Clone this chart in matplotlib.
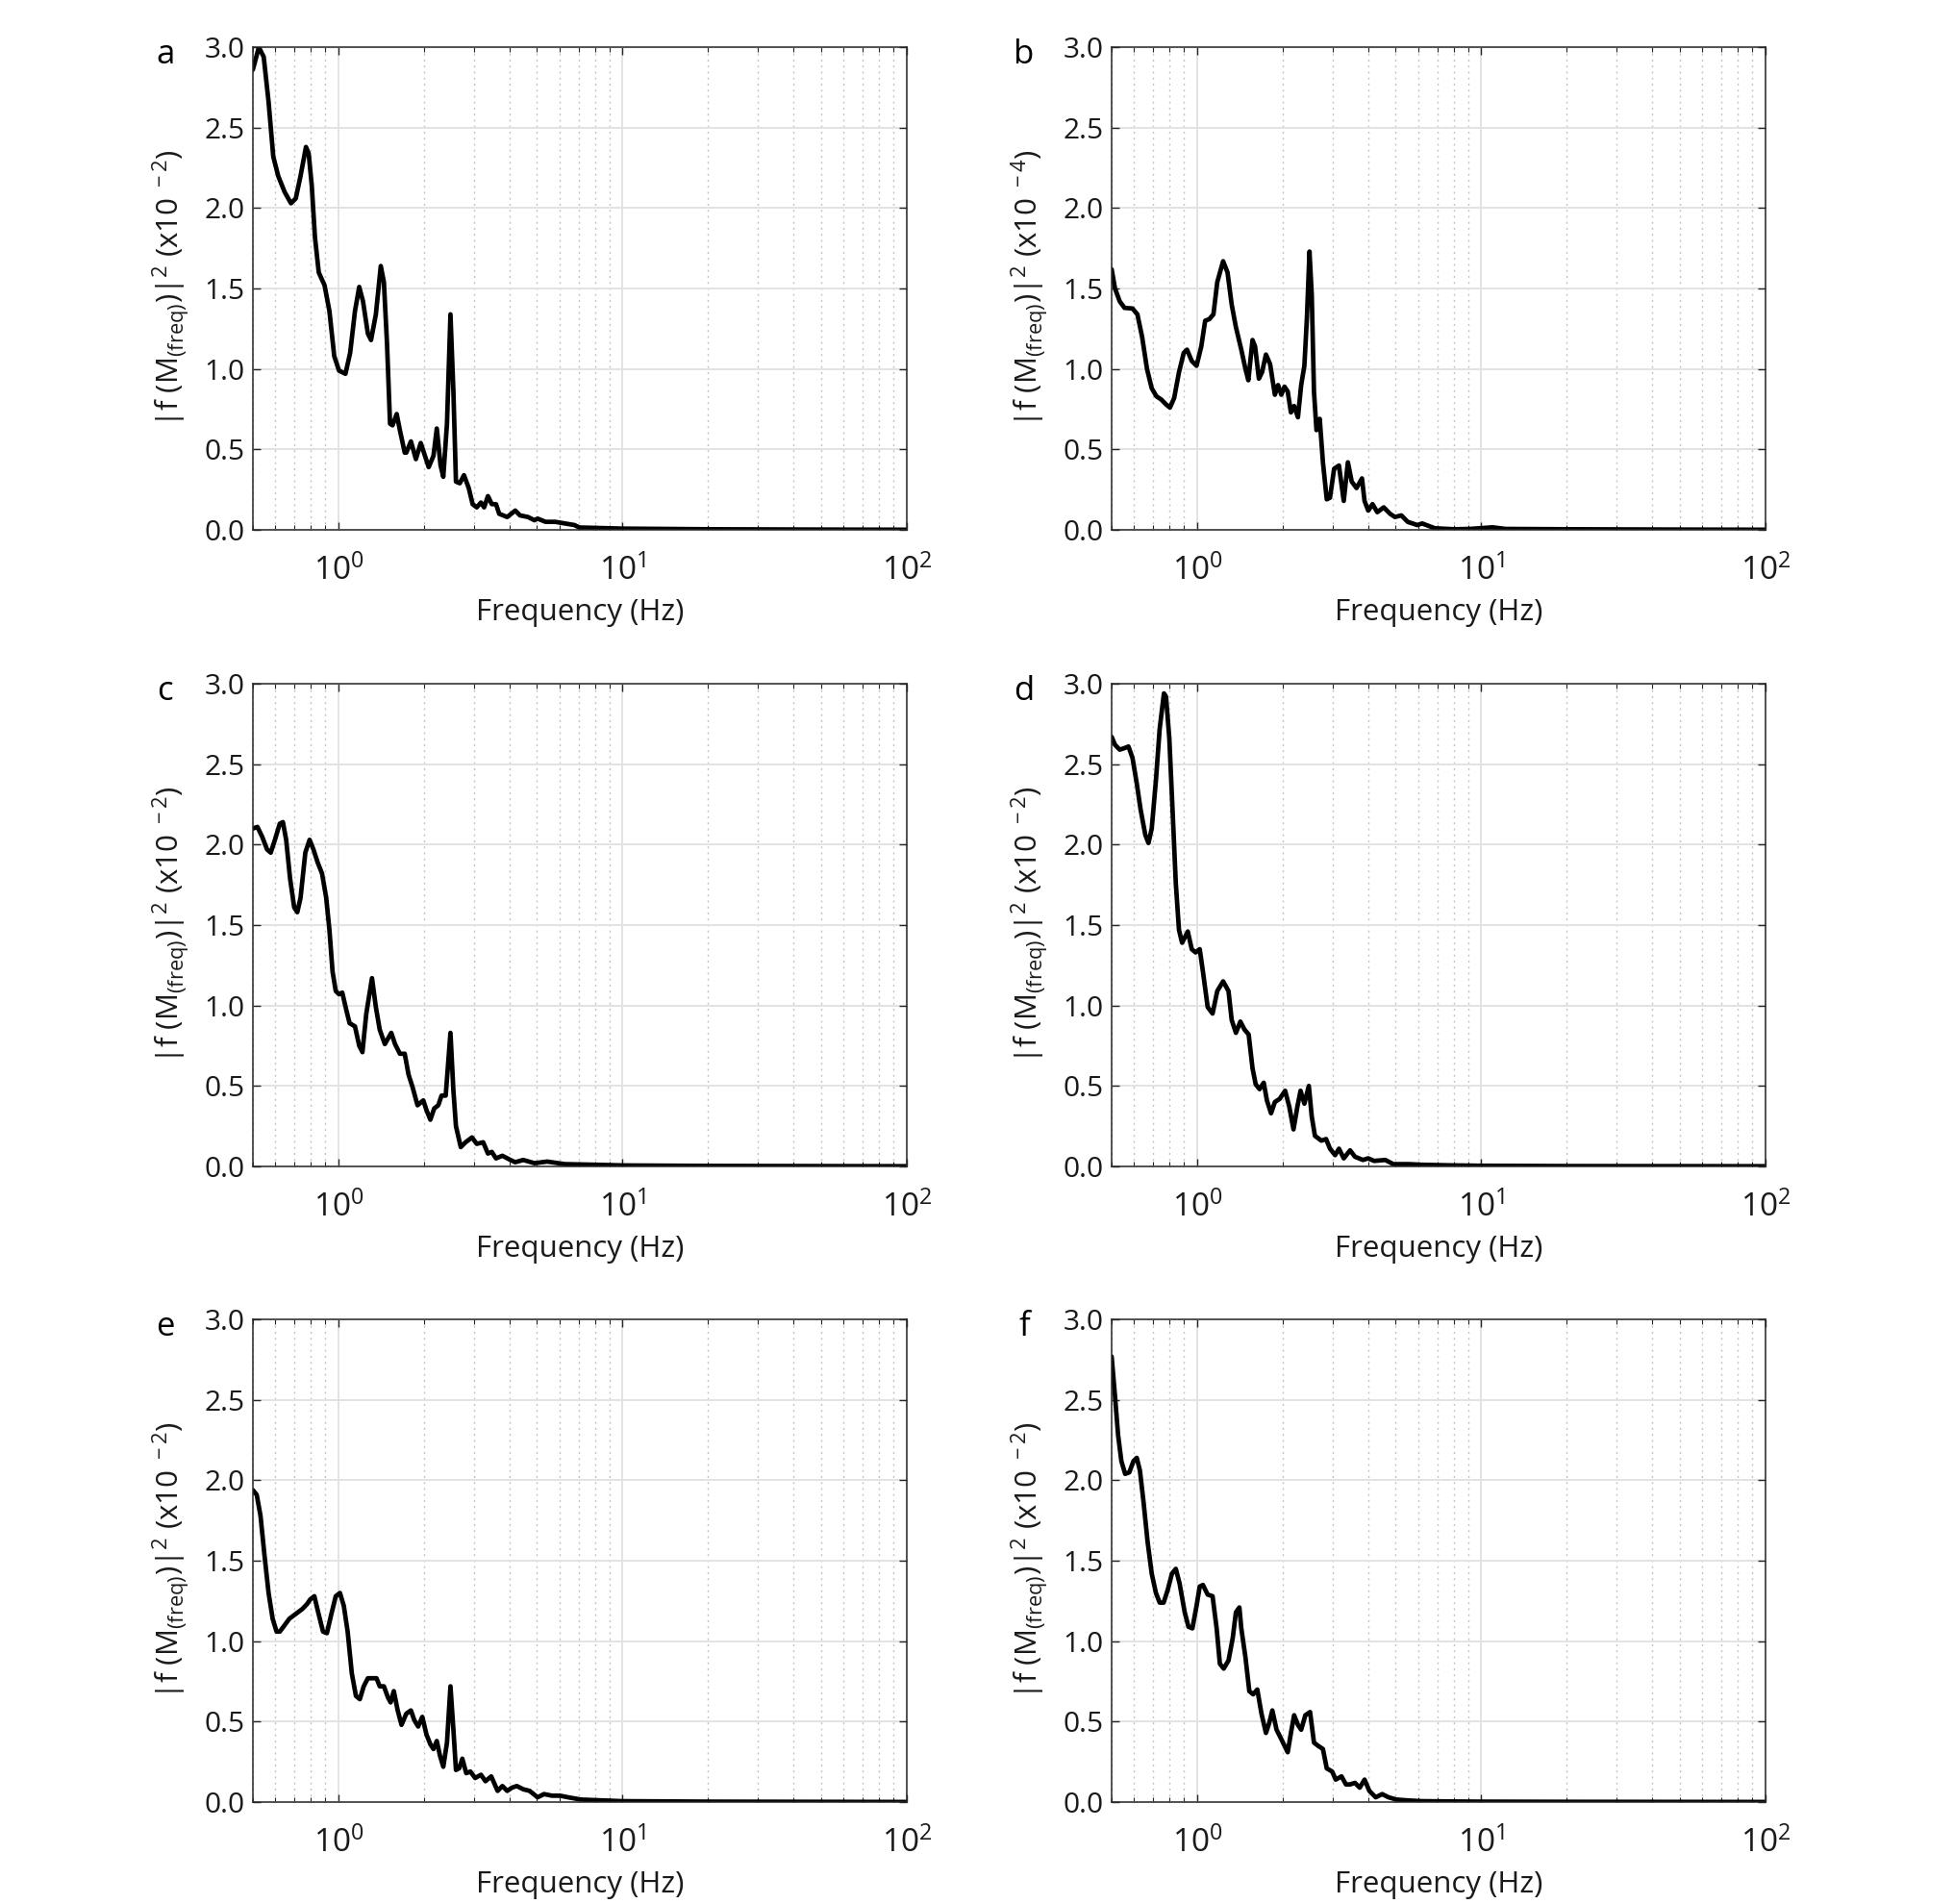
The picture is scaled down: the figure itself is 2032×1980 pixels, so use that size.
import matplotlib
matplotlib.use("Agg")
import matplotlib.pyplot as plt
from matplotlib.ticker import LogLocator, FixedLocator, FormatStrFormatter, NullFormatter

plt.rcParams['font.family'] = ['Open Sans', 'DejaVu Sans']
plt.rcParams['mathtext.fontset'] = 'custom'
plt.rcParams['mathtext.rm'] = 'Open Sans'
plt.rcParams['mathtext.it'] = 'Open Sans:italic'
plt.rcParams['mathtext.default'] = 'regular'

# ---- data (frequency in Hz, power in units of the label) ----

freq_a = [0.5, 0.525, 0.546, 0.568, 0.590, 0.614, 0.647, 0.681, 0.708, 0.736, 0.769, 0.786,
          0.806, 0.827, 0.853, 0.894, 0.930, 0.967, 1.005, 1.059, 1.10, 1.144, 1.184, 1.221,
          1.270, 1.303, 1.355, 1.41, 1.446, 1.483, 1.52, 1.551, 1.604, 1.646, 1.712, 1.734,
          1.80, 1.874, 1.949, 2.079, 2.161, 2.22, 2.289, 2.34, 2.411, 2.48, 2.540, 2.593,
          2.675, 2.767, 2.876, 2.968, 3.069, 3.176, 3.258, 3.36, 3.467, 3.587, 3.681, 3.928,
          4.192, 4.357, 4.649, 4.897, 5.026, 5.362, 5.798, 6.266, 6.775, 7.04, 8.125, 10,
          20, 50, 100]
val_a = [2.86, 3.0, 2.94, 2.66, 2.32, 2.20, 2.10, 2.03, 2.06, 2.20, 2.38, 2.34,
         2.14, 1.82, 1.60, 1.52, 1.36, 1.08, 0.99, 0.97, 1.10, 1.36, 1.51, 1.42,
         1.22, 1.18, 1.34, 1.64, 1.54, 1.16, 0.66, 0.65, 0.72, 0.62, 0.48, 0.48,
         0.55, 0.44, 0.54, 0.39, 0.46, 0.63, 0.40, 0.33, 0.66, 1.34, 0.86, 0.30,
         0.29, 0.34, 0.26, 0.16, 0.14, 0.17, 0.14, 0.21, 0.16, 0.16, 0.10, 0.08,
         0.12, 0.09, 0.08, 0.06, 0.07, 0.05, 0.05, 0.04, 0.03, 0.015, 0.012, 0.008,
         0.004, 0.002, 0.001]

freq_b = [0.5, 0.514, 0.534, 0.555, 0.592, 0.616, 0.640, 0.666, 0.692, 0.719, 0.748, 0.777,
          0.802, 0.830, 0.863, 0.897, 0.921, 0.957, 0.995, 1.034, 1.067, 1.104, 1.141, 1.177,
          1.234, 1.279, 1.323, 1.369, 1.430, 1.479, 1.514, 1.566, 1.599, 1.649, 1.692, 1.746,
          1.806, 1.877, 1.927, 1.978, 2.030, 2.083, 2.138, 2.194, 2.263, 2.323, 2.384, 2.434,
          2.485, 2.531, 2.577, 2.630, 2.700, 2.771, 2.858, 2.934, 3.034, 3.155, 3.280, 3.392,
          3.499, 3.638, 3.802, 3.882, 4.0, 4.141, 4.305, 4.534, 4.776, 4.966, 5.231, 5.508,
          5.955, 6.19, 6.866, 8.02, 9.13, 10.95, 12.15, 20, 50, 100]
val_b = [1.62, 1.50, 1.42, 1.38, 1.376, 1.34, 1.20, 1.00, 0.88, 0.83, 0.81, 0.78,
         0.76, 0.82, 0.98, 1.10, 1.12, 1.05, 1.02, 1.14, 1.30, 1.31, 1.34, 1.54,
         1.67, 1.60, 1.40, 1.26, 1.12, 1.00, 0.93, 1.18, 1.14, 0.94, 0.98, 1.09,
         1.03, 0.84, 0.90, 0.84, 0.89, 0.86, 0.73, 0.77, 0.70, 0.90, 1.02, 1.32,
         1.73, 1.46, 0.86, 0.62, 0.69, 0.42, 0.19, 0.20, 0.38, 0.40, 0.18, 0.42,
         0.30, 0.26, 0.32, 0.18, 0.12, 0.16, 0.11, 0.14, 0.10, 0.08, 0.09, 0.05,
         0.03, 0.04, 0.01, 0.004, 0.006, 0.016, 0.006, 0.004, 0.002, 0.001]

freq_c = [0.5, 0.519, 0.539, 0.561, 0.578, 0.598, 0.622, 0.638, 0.655, 0.676, 0.699, 0.717,
          0.736, 0.765, 0.792, 0.817, 0.845, 0.876, 0.906, 0.930, 0.954, 0.979, 1.005, 1.032,
          1.067, 1.095, 1.144, 1.184, 1.215, 1.254, 1.313, 1.355, 1.398, 1.457, 1.535, 1.583,
          1.646, 1.712, 1.766, 1.826, 1.899, 1.990, 2.042, 2.107, 2.174, 2.247, 2.307, 2.386,
          2.48, 2.540, 2.593, 2.696, 2.803, 2.952, 3.069, 3.233, 3.36, 3.467, 3.587, 3.778,
          4.031, 4.192, 4.472, 4.897, 5.433, 6.266, 8.125, 10, 20, 100]
val_c = [2.10, 2.11, 2.05, 1.97, 1.95, 2.03, 2.13, 2.14, 2.03, 1.79, 1.61, 1.58,
         1.67, 1.95, 2.03, 1.97, 1.89, 1.82, 1.67, 1.47, 1.21, 1.09, 1.07, 1.08,
         0.97, 0.89, 0.87, 0.75, 0.71, 0.95, 1.17, 0.99, 0.85, 0.76, 0.83, 0.76,
         0.70, 0.70, 0.57, 0.49, 0.38, 0.41, 0.35, 0.29, 0.36, 0.38, 0.44, 0.44,
         0.83, 0.47, 0.25, 0.12, 0.15, 0.18, 0.14, 0.15, 0.08, 0.09, 0.05, 0.066,
         0.04, 0.026, 0.04, 0.02, 0.03, 0.014, 0.01, 0.006, 0.003, 0.001]

freq_d = [0.5, 0.514, 0.534, 0.555, 0.573, 0.592, 0.613, 0.632, 0.657, 0.674, 0.692, 0.716,
          0.738, 0.764, 0.777, 0.798, 0.819, 0.841, 0.863, 0.885, 0.927, 0.957, 0.987, 1.021,
          1.048, 1.089, 1.133, 1.177, 1.234, 1.289, 1.323, 1.369, 1.419, 1.468, 1.518, 1.566,
          1.607, 1.658, 1.715, 1.760, 1.820, 1.877, 1.952, 2.040, 2.110, 2.183, 2.252, 2.311,
          2.384, 2.472, 2.531, 2.597, 2.735, 2.843, 2.934, 3.058, 3.155, 3.280, 3.453, 3.592,
          3.831, 4.0, 4.195, 4.595, 4.90, 5.58, 6.19, 8.02, 10, 20, 100]
val_d = [2.67, 2.62, 2.59, 2.60, 2.61, 2.54, 2.38, 2.22, 2.06, 2.01, 2.10, 2.40,
         2.72, 2.94, 2.92, 2.66, 2.22, 1.76, 1.47, 1.39, 1.46, 1.35, 1.33, 1.35,
         1.21, 0.99, 0.95, 1.09, 1.15, 1.09, 0.91, 0.83, 0.90, 0.85, 0.82, 0.61,
         0.51, 0.48, 0.52, 0.41, 0.33, 0.40, 0.42, 0.47, 0.37, 0.23, 0.37, 0.47,
         0.39, 0.50, 0.31, 0.19, 0.16, 0.17, 0.11, 0.07, 0.11, 0.05, 0.10, 0.06,
         0.04, 0.05, 0.034, 0.04, 0.014, 0.014, 0.01, 0.006, 0.004, 0.002, 0.001]

freq_e = [0.5, 0.516, 0.532, 0.549, 0.568, 0.587, 0.606, 0.622, 0.647, 0.672, 0.708, 0.746,
          0.775, 0.796, 0.823, 0.849, 0.883, 0.911, 0.942, 0.979, 1.013, 1.045, 1.078, 1.115,
          1.153, 1.19, 1.228, 1.270, 1.320, 1.362, 1.398, 1.446, 1.495, 1.527, 1.567, 1.617,
          1.668, 1.734, 1.80, 1.850, 1.909, 1.974, 2.042, 2.107, 2.161, 2.22, 2.277, 2.34,
          2.411, 2.48, 2.54, 2.593, 2.661, 2.73, 2.818, 2.914, 3.030, 3.176, 3.293, 3.451,
          3.634, 3.778, 3.928, 4.083, 4.246, 4.472, 4.710, 5.026, 5.293, 5.649, 6.03, 6.433,
          7.136, 8.125, 10, 20, 100]
val_e = [1.94, 1.91, 1.78, 1.54, 1.30, 1.14, 1.06, 1.06, 1.10, 1.14, 1.17, 1.20,
         1.23, 1.26, 1.28, 1.18, 1.06, 1.05, 1.16, 1.28, 1.30, 1.22, 1.06, 0.80,
         0.66, 0.64, 0.72, 0.77, 0.77, 0.77, 0.72, 0.72, 0.65, 0.62, 0.69, 0.57,
         0.48, 0.55, 0.57, 0.51, 0.47, 0.53, 0.42, 0.36, 0.33, 0.38, 0.29, 0.22,
         0.37, 0.72, 0.45, 0.20, 0.21, 0.27, 0.18, 0.19, 0.15, 0.17, 0.13, 0.16,
         0.07, 0.10, 0.07, 0.09, 0.10, 0.08, 0.07, 0.03, 0.05, 0.04, 0.04, 0.03,
         0.016, 0.012, 0.006, 0.003, 0.001]

freq_f = [0.5, 0.514, 0.527, 0.541, 0.558, 0.577, 0.597, 0.613, 0.629, 0.648, 0.669, 0.692,
          0.716, 0.738, 0.762, 0.788, 0.815, 0.841, 0.867, 0.904, 0.932, 0.962, 0.995, 1.021,
          1.048, 1.089, 1.133, 1.171, 1.202, 1.240, 1.289, 1.334, 1.369, 1.408, 1.430, 1.479,
          1.526, 1.574, 1.628, 1.684, 1.746, 1.792, 1.839, 1.903, 1.967, 2.030, 2.083, 2.138,
          2.194, 2.263, 2.323, 2.403, 2.497, 2.577, 2.665, 2.771, 2.858, 2.987, 3.073, 3.221,
          3.339, 3.453, 3.592, 3.734, 3.882, 4.036, 4.250, 4.477, 4.716, 5.03, 5.58, 6.19,
          8.02, 10, 20, 100]
val_f = [2.77, 2.52, 2.28, 2.12, 2.04, 2.05, 2.12, 2.14, 2.06, 1.86, 1.62, 1.42,
         1.30, 1.24, 1.24, 1.32, 1.42, 1.45, 1.36, 1.18, 1.09, 1.08, 1.22, 1.34,
         1.35, 1.29, 1.28, 1.08, 0.86, 0.83, 0.88, 1.02, 1.18, 1.21, 1.08, 0.90,
         0.69, 0.67, 0.70, 0.55, 0.43, 0.49, 0.57, 0.45, 0.40, 0.35, 0.31, 0.43,
         0.54, 0.48, 0.45, 0.54, 0.56, 0.37, 0.35, 0.33, 0.21, 0.19, 0.14, 0.16,
         0.11, 0.11, 0.12, 0.09, 0.14, 0.07, 0.03, 0.05, 0.03, 0.016, 0.01, 0.006,
         0.004, 0.003, 0.002, 0.001]

panel_letters = ['a', 'b', 'c', 'd', 'e', 'f']
exponents = ['-2', '-4', '-2', '-2', '-2', '-2']
series = [(freq_a, val_a), (freq_b, val_b), (freq_c, val_c),
          (freq_d, val_d), (freq_e, val_e), (freq_f, val_f)]
y_ticks = [0.0, 0.5, 1.0, 1.5, 2.0, 2.5, 3.0]

# ---- layout ----
fig = plt.figure(figsize=(20.32, 19.80), dpi=100)

col_left = [0.1294, 0.5689]
row_bottom = [0.7217, 0.3874, 0.0535]
ax_w, ax_h = 0.3346, 0.2535

for i, (fx, fy) in enumerate(series):
    r, c = divmod(i, 2)
    ax = fig.add_axes([col_left[c], row_bottom[r], ax_w, ax_h])

    ax.plot(fx, fy, color='black', linewidth=3.4,
            solid_joinstyle='round', solid_capstyle='round')

    ax.set_xscale('log')
    ax.set_xlim(0.5, 100)
    ax.set_ylim(0, 3)
    ax.yaxis.set_major_locator(FixedLocator(y_ticks))
    ax.yaxis.set_major_formatter(FormatStrFormatter('%.1f'))
    ax.xaxis.set_major_locator(LogLocator(base=10))
    ax.xaxis.set_minor_locator(LogLocator(base=10, subs=range(2, 10)))
    ax.xaxis.set_minor_formatter(NullFormatter())

    # matlab-ish grid
    ax.grid(True, which='major', color='#e3e3e3', linewidth=1.4, linestyle='-')
    ax.grid(True, which='minor', axis='x', color='#c4c4c4', linewidth=1.0,
            linestyle=(0, (1.5, 3)))
    ax.set_axisbelow(True)

    for sp in ax.spines.values():
        sp.set_color('#262626')
        sp.set_linewidth(1.1)

    ax.tick_params(which='both', direction='in', top=True, right=True,
                   colors='#262626', labelcolor='#1a1a1a')
    ax.tick_params(which='major', length=6, width=1.0)
    ax.tick_params(which='minor', length=3.5, width=0.8)
    ax.tick_params(axis='x', which='major', pad=19, labelsize=24)
    ax.tick_params(axis='y', pad=6, labelsize=21.5)

    ax.set_xlabel('Frequency (Hz)', fontsize=22.5, color='#1a1a1a', labelpad=8)
    ax.set_ylabel(r'|f (M$_{(freq)}$)|$^{2}$ (x10$^{\ ' + exponents[i] + '}$)',
                  fontsize=22.5, color='#1a1a1a', labelpad=10)

    ax.text(-0.134, 0.985, panel_letters[i], transform=ax.transAxes,
            fontsize=25, ha='center', va='center', color='black')

fig.savefig('out.png', dpi=100)
